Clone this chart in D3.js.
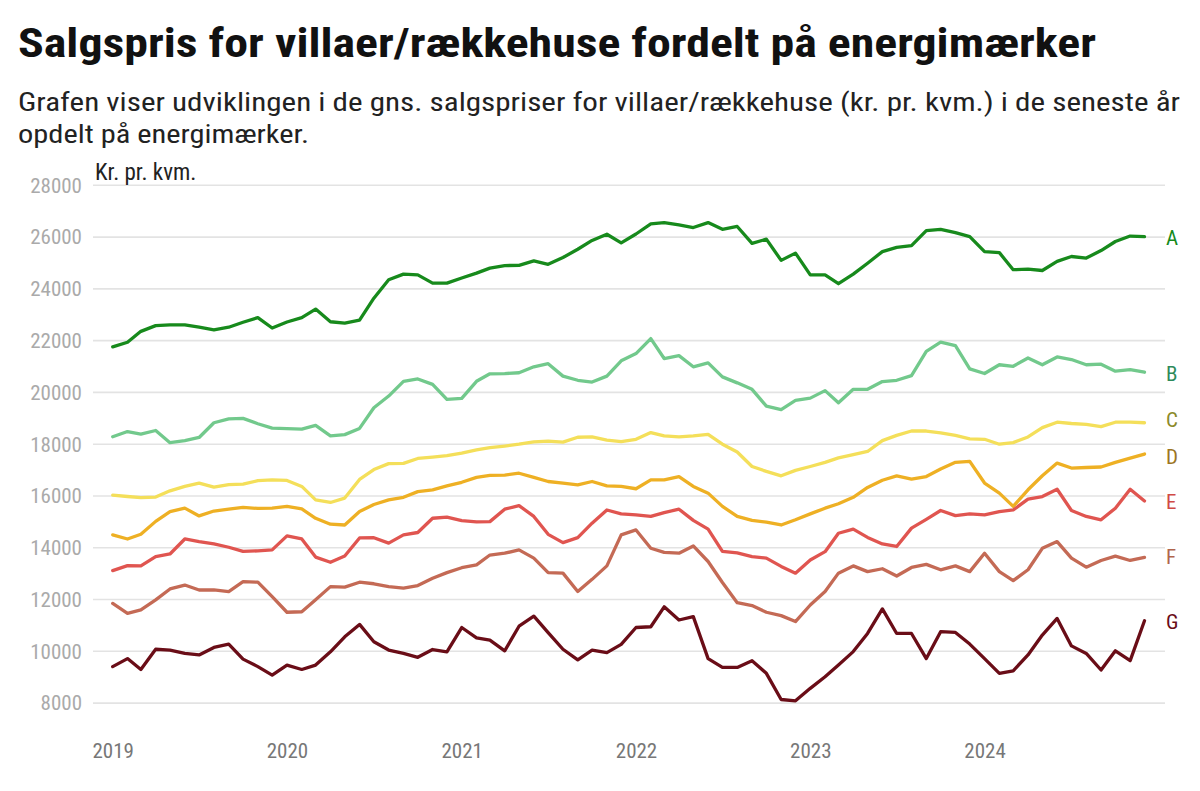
<!DOCTYPE html>
<html>
<head>
<meta charset="utf-8">
<script src="https://cdn.jsdelivr.net/npm/d3@7"></script>
<style>
  html, body { margin: 0; padding: 0; background: #fff; }
  svg { display: block; font-family: Roboto, "Noto Sans", sans-serif; }
</style>
</head>
<body>
<svg id="chart" width="1200" height="791"></svg>
<script>
// ---- data ----
const startMonth = "2019-01";
const yearTicks = ["2019", "2020", "2021", "2022", "2023", "2024"];
const yTicks = [8000, 10000, 12000, 14000, 16000, 18000, 20000, 22000, 24000, 26000, 28000];
const seriesNames = ["A", "B", "C", "D", "E", "F", "G"];

const serieA = [21740,21920,22340,22560,22590,22590,22500,22400,22500,22690,22870,22470,
  22700,22870,23200,22710,22660,22770,23620,24330,24550,24520,24200,24200,
  24400,24590,24780,24880,24890,25060,24930,25190,25510,25850,26090,25760,
  26100,26490,26540,26450,26350,26540,26280,26390,25740,25900,25080,25360,
  24520,24520,24180,24550,24970,25420,25580,25650,26230,26280,26150,26000,
  25420,25380,24720,24740,24690,25040,25230,25170,25460,25810,26020,26000];
const serieB = [18270,18470,18370,18510,18040,18120,18240,18810,18960,18980,18770,18600,
  18580,18560,18710,18300,18350,18590,19390,19840,20410,20500,20290,19710,
  19750,20410,20700,20710,20740,20970,21090,20610,20450,20380,20610,21200,
  21480,22060,21290,21400,20970,21120,20580,20350,20100,19450,19320,19670,
  19760,20050,19580,20100,20100,20400,20450,20630,21570,21920,21790,20890,
  20710,21050,20990,21310,21050,21350,21250,21050,21070,20800,20860,20760];
const serieC = [16010,15960,15920,15940,16180,16350,16480,16320,16420,16440,16570,16600,
  16580,16350,15830,15730,15900,16620,17000,17230,17240,17430,17480,17540,
  17640,17760,17850,17910,17980,18070,18100,18060,18250,18260,18140,18080,
  18170,18430,18300,18260,18300,18360,17980,17680,17120,16930,16760,16970,
  17120,17280,17450,17580,17700,18120,18320,18490,18490,18420,18320,18190,
  18170,17980,18040,18260,18620,18830,18780,18750,18660,18830,18830,18810];
const serieD = [14480,14320,14500,15000,15380,15510,15210,15400,15470,15540,15500,15510,
  15580,15480,15120,14890,14860,15380,15650,15830,15930,16150,16220,16370,
  16510,16700,16780,16790,16860,16700,16540,16480,16410,16540,16370,16350,
  16260,16600,16600,16730,16350,16090,15580,15190,15040,14970,14860,15060,
  15290,15510,15680,15930,16310,16590,16760,16630,16730,17020,17280,17320,
  16480,16090,15580,16220,16760,17250,17060,17080,17100,17280,17440,17600];
const serieE = [13100,13290,13280,13640,13740,14320,14220,14130,14000,13840,13860,13900,
  14440,14320,13620,13420,13660,14360,14370,14160,14480,14570,15120,15160,
  15030,14980,14990,15470,15610,15190,14500,14180,14370,14930,15440,15290,
  15250,15190,15340,15470,15040,14700,13840,13780,13640,13580,13260,13000,
  13510,13830,14540,14700,14380,14130,14030,14740,15080,15420,15220,15290,
  15250,15380,15440,15860,15960,16240,15420,15190,15060,15510,16240,15790];
const serieF = [11830,11450,11580,11970,12390,12540,12350,12350,12290,12670,12650,12090,
  11490,11510,11970,12480,12460,12650,12590,12480,12420,12520,12800,13020,
  13210,13320,13700,13770,13900,13580,13020,13000,12290,12760,13280,14480,
  14670,13960,13800,13770,14050,13450,12640,11860,11750,11490,11360,11130,
  11770,12290,13000,13280,13060,13170,12890,13220,13340,13130,13280,13060,
  13770,13060,12710,13130,13960,14220,13580,13230,13490,13660,13490,13610];
const serieG = [9390,9700,9280,10060,10030,9900,9840,10130,10260,9680,9390,9060,
  9450,9280,9450,9960,10540,11020,10350,10030,9900,9750,10050,9960,
  10900,10500,10410,10000,10950,11340,10700,10060,9650,10030,9930,10250,
  10900,10930,11700,11190,11320,9700,9360,9360,9620,9130,8120,8070,
  8550,9000,9450,9970,10670,11620,10670,10670,9700,10740,10710,10260,
  9700,9130,9230,9840,10610,11250,10190,9900,9260,10000,9620,11160];

const lineColors = ["#178a1c", "#72c98c", "#f4df5a", "#eeb024", "#e05550", "#c46a55", "#6a0d17"];
const labelColors = ["#178a1c", "#2e8a5a", "#8c8a2a", "#9c7522", "#d04a45", "#b0654c", "#6a0d17"];

// ---- build ----
const svg = d3.select("#chart");
const allSeries = [serieA, serieB, serieC, serieD, serieE, serieF, serieG];
const t0 = d3.timeParse("%Y-%m")(startMonth);
const dates = d3.range(serieA.length).map(i => d3.timeMonth.offset(t0, i));

const x = d3.scaleTime()
  .domain([dates[0], dates[dates.length - 1]])
  .range([112.7, 1144.5]);
const y = d3.scaleLinear().domain([8000, 28000]).range([702.6, 184.8]);

const narrow = "'Liberation Sans Narrow', 'Roboto Condensed', Roboto, sans-serif";

// title
svg.append("text").attr("x", 18).attr("y", 57)
  .attr("font-size", 41).attr("font-weight", 700).attr("fill", "#111")
  .attr("font-family", narrow)
  .attr("textLength", 1078).attr("lengthAdjust", "spacingAndGlyphs")
  .text("Salgspris for villaer/rækkehuse fordelt på energimærker");

svg.append("text").attr("x", 18).attr("y", 111)
  .attr("font-size", 25).attr("fill", "#222").attr("font-family", narrow)
  .attr("textLength", 1162).attr("lengthAdjust", "spacingAndGlyphs")
  .text("Grafen viser udviklingen i de gns. salgspriser for villaer/rækkehuse (kr. pr. kvm.) i de seneste år");
svg.append("text").attr("x", 18).attr("y", 143)
  .attr("font-size", 25).attr("fill", "#222").attr("font-family", narrow)
  .attr("textLength", 291).attr("lengthAdjust", "spacingAndGlyphs")
  .text("opdelt på energimærker.");

// y axis grid
const yAxis = d3.axisLeft(y).tickValues(yTicks).tickSize(0).tickPadding(0).tickFormat(d3.format("d"));
const gy = svg.append("g").attr("transform", "translate(82,0)").call(yAxis);
gy.select(".domain").remove();
gy.selectAll("text").attr("font-size", 21).attr("fill", "#aaa").attr("font-family", narrow).attr("dy", "0.35em");
gy.selectAll(".tick").append("line")
  .attr("x1", 11).attr("x2", 1083).attr("stroke", "#e3e3e3").attr("stroke-width", 1.6);

svg.append("text").attr("x", 95).attr("y", 180)
  .attr("font-size", 23).attr("fill", "#222").attr("font-family", narrow).text("Kr. pr. kvm.");

// x axis
const xAxis = d3.axisBottom(x)
  .tickValues(yearTicks.map(yv => d3.timeParse("%Y")(yv)))
  .tickFormat(d3.timeFormat("%Y")).tickSize(0).tickPadding(0);
const gx = svg.append("g").attr("transform", "translate(0,743)").call(xAxis);
gx.select(".domain").remove();
gx.selectAll("text").attr("font-size", 21).attr("fill", "#777").attr("font-family", narrow).attr("dy", "0.71em");

// lines
const line = d3.line().x((d, i) => x(dates[i])).y(d => y(d));
allSeries.forEach((s, k) => {
  svg.append("path").datum(s)
    .attr("d", line)
    .attr("fill", "none")
    .attr("stroke", lineColors[k])
    .attr("stroke-width", 3.3)
    .attr("stroke-linejoin", "round")
    .attr("stroke-linecap", "round");
});

// end labels
const labelY = [238, 374, 420, 457, 502, 557, 622];
seriesNames.forEach((n, k) => {
  svg.append("text").attr("x", 1166).attr("y", labelY[k]).attr("dy", "0.35em")
    .attr("font-size", 21).attr("fill", labelColors[k]).attr("font-family", narrow).text(n);
});
</script>
</body>
</html>
